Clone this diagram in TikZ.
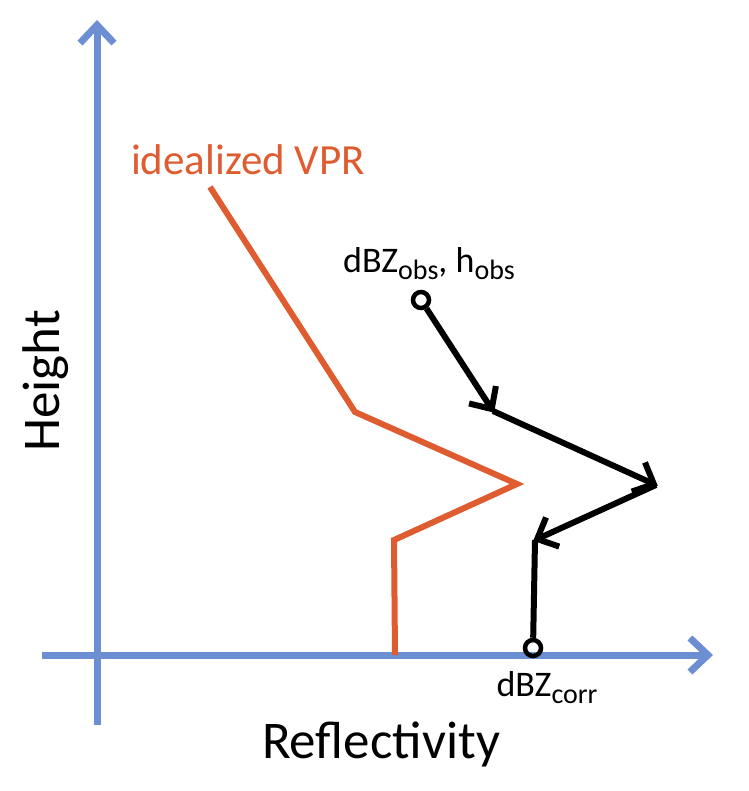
\documentclass[tikz,border=0pt]{standalone}
\usepackage{fontspec}
\setmainfont{Carlito}
\usetikzlibrary{arrows.meta}

\definecolor{axisblue}{RGB}{108,142,210}
\definecolor{vprred}{RGB}{222,92,48}
\newcommand{\sbs}[1]{\raisebox{-7pt}{\fontsize{28}{30}\selectfont #1}}

\begin{document}
\begin{tikzpicture}[x=1pt,y=-1pt,
    axis/.style={line width=7pt,color=axisblue,-{Straight Barb[length=18pt,width=34pt,line width=7pt]}},
    vpr/.style={line width=6pt,color=vprred,line join=miter},
    corr/.style={line width=6pt,black,-{Straight Barb[length=17pt,width=32pt,line width=6pt]},shorten >=-2pt},
    ring/.style={circle,draw=black,line width=4.5pt,inner sep=0pt,minimum size=16pt},
    lbl/.style={font=\fontsize{36}{40}\selectfont,inner sep=0pt}]
        \useasboundingbox (0,0) rectangle (748,791);

        % axes
        \coordinate (yo) at (97,725);
        \coordinate (ytip) at (97,20);
        \coordinate (xo) at (42,655);
        \coordinate (xtip) at (713,655);
        \draw[axis] (yo) -- (ytip);
        \draw[axis] (xo) -- (xtip);
        \node[font=\fontsize{53}{58}\selectfont,inner sep=0pt] (xlab) at (381,744) {Reflectivity};
        \node[font=\fontsize{53}{58}\selectfont,inner sep=0pt,rotate=90] (ylab) at (46,381) {Height};

        % idealized profile
        \coordinate (v1) at (210,187);
        \coordinate (v2) at (355,412);
        \coordinate (v3) at (517,484);
        \coordinate (v4) at (394,540);
        \coordinate (v5) at (395,655);
        \draw[vpr] (v1) -- (v2) -- (v3) -- (v4) -- (v5);
        \node[font=\fontsize{43}{47}\selectfont,color=vprred,inner sep=0pt] (vprlab) at (248,160) {idealized VPR};

        % correction steps
        \node[ring] (obs) at (421,300) {};
        \coordinate (c1) at (493,411);
        \coordinate (c2) at (656,485);
        \coordinate (c3) at (535,540);
        \node[ring] (cor) at (533,648) {};
        \draw[corr] (obs) -- (c1);
        \draw[corr] (c1) -- (c2);
        \draw[corr] (c2) -- (c3);
        \draw[line width=6pt] (c3) -- (cor);
        \node[lbl] (obslab) at (429,264) {dBZ\sbs{obs}, h\sbs{obs}};
        \node[lbl] (corlab) at (547,688) {dBZ\sbs{corr}};

\end{tikzpicture}
\end{document}
